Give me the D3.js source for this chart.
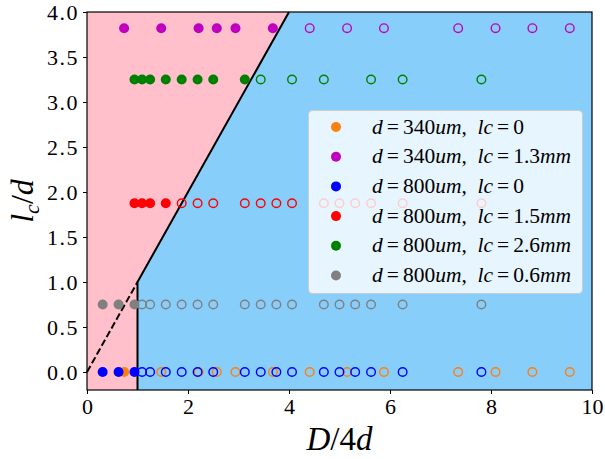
<!DOCTYPE html>
<html>
<head>
<meta charset="utf-8">
<script src="https://cdn.jsdelivr.net/npm/d3@7"></script>
<style>
  body { margin: 0; background: #fff; }
  text { font-family: "Liberation Serif", "DejaVu Serif", serif; }
</style>
</head>
<body>
<div id="chart"></div>
<script>
// series: D/4d positions (filled = inside pink region, open = blue region)
var orangeFilled = [0.735];
var orangeOpen = [1.47, 2.21, 2.57, 2.94, 3.68, 4.41, 5.15, 5.88, 7.35, 8.09, 8.82, 9.56];
var magentaFilled = [0.735, 1.47, 2.21, 2.57, 2.94, 3.68];
var magentaOpen = [4.41, 5.15, 5.88, 7.35, 8.09, 8.82, 9.56];
var blueFilled = [0.31, 0.625, 0.94];
var blueOpen = [1.09, 1.25, 1.56, 1.875, 2.19, 2.5, 3.125, 3.44, 3.75, 4.06, 4.69, 5.0, 5.31, 5.625, 6.25, 7.81];
var redFilled = [0.94, 1.09, 1.25, 1.56];
var redOpen = [1.875, 2.19, 2.5, 3.125, 3.44, 3.75, 4.06, 4.69, 5.0, 5.31, 5.625, 6.25, 7.81];
var greenFilled = [0.94, 1.09, 1.25, 1.56, 1.875, 2.19, 2.5, 3.125];
var greenOpen = [3.44, 4.06, 4.69, 5.625, 6.25, 7.81];
var grayFilled = [0.31, 0.625, 0.94];
var grayOpen = [1.09, 1.25, 1.56, 1.875, 2.19, 2.5, 3.125, 3.44, 3.75, 4.06, 4.69, 5.0, 5.31, 5.625, 6.25, 7.81];

// l_c/d of each series
var rowY = [0, 3.82, 0, 1.875, 3.25, 0.75];
var colors = ["#ff7f0e", "#bf00bf", "#0000ff", "#ff0000", "#008000", "#808080"];
var labels = ["d=340um,  lc=0", "d=340um,  lc=1.3mm", "d=800um,  lc=0",
              "d=800um,  lc=1.5mm", "d=800um,  lc=2.6mm", "d=800um,  lc=0.6mm"];
var filledSets = [orangeFilled, magentaFilled, blueFilled, redFilled, greenFilled, grayFilled];
var openSets = [orangeOpen, magentaOpen, blueOpen, redOpen, greenOpen, grayOpen];

var xTicks = [0, 2, 4, 6, 8, 10];
var yTicks = [0, 0.5, 1, 1.5, 2, 2.5, 3, 3.5, 4];

// boundary between regions
var boundary = [[1, -0.2], [1, 1], [4, 4]];
var dashed = [[0, 0], [1, 1]];

var w = 605, h = 459;
var margin = {top: 12, right: 13, bottom: 69, left: 87};

var svg = d3.select("#chart").append("svg")
    .attr("width", w).attr("height", h);

var x = d3.scaleLinear().domain([0, 10]).range([margin.left, w - margin.right]);
var y = d3.scaleLinear().domain([-0.2, 4]).range([h - margin.bottom, margin.top]);

var line = d3.line().x(function(d) { return x(d[0]); }).y(function(d) { return y(d[1]); });

// background regions
var pinkPoly = [[0, -0.2]].concat(boundary).concat([[0, 4]]);
var bluePoly = boundary.slice().reverse().concat([[1, -0.2], [10, -0.2], [10, 4]]);
svg.append("path").attr("d", line(pinkPoly) + "Z").attr("fill", "#ffc0cb");
svg.append("path").attr("d", line(bluePoly) + "Z").attr("fill", "#87cefa");

svg.append("path").attr("d", line(boundary))
   .attr("fill", "none").attr("stroke", "black").attr("stroke-width", 2);
svg.append("path").attr("d", line(dashed))
   .attr("fill", "none").attr("stroke", "black").attr("stroke-width", 2)
   .attr("stroke-dasharray", "7,3");

// points
colors.forEach(function(c, i) {
  var g = svg.append("g");
  g.selectAll("circle.open")
   .data(openSets[i]).enter().append("circle")
   .attr("cx", function(d) { return x(d); })
   .attr("cy", y(rowY[i]))
   .attr("r", 4.3)
   .attr("fill", "none")
   .attr("stroke", c)
   .attr("stroke-width", 1.4);
  g.selectAll("circle.fill")
   .data(filledSets[i]).enter().append("circle")
   .attr("cx", function(d) { return x(d); })
   .attr("cy", y(rowY[i]))
   .attr("r", 5)
   .attr("fill", c);
});

// axes
var xAxis = d3.axisBottom(x).tickValues(xTicks).tickSize(4).tickPadding(4)
    .tickFormat(d3.format("d"));
var yAxis = d3.axisLeft(y).tickValues(yTicks).tickSize(4).tickPadding(4)
    .tickFormat(d3.format(".1f"));

var gx = svg.append("g").attr("transform", "translate(0," + (h - margin.bottom) + ")").call(xAxis);
var gy = svg.append("g").attr("transform", "translate(" + margin.left + ",0)").call(yAxis);
[gx, gy].forEach(function(g) {
  g.select(".domain").remove();
  g.selectAll("line").attr("stroke", "black").attr("stroke-width", 1);
  g.selectAll("text").attr("font-size", 22).attr("fill", "black")
   .style("font-family", "'Liberation Serif', serif");
});
gy.selectAll("text").attr("letter-spacing", 1.5);

// frame
svg.append("rect")
   .attr("x", margin.left).attr("y", margin.top)
   .attr("width", w - margin.left - margin.right)
   .attr("height", h - margin.top - margin.bottom)
   .attr("fill", "none").attr("stroke", "black").attr("stroke-width", 1.2);

// axis labels
var xl = svg.append("text")
   .attr("x", (margin.left + w - margin.right) / 2).attr("y", 450)
   .attr("text-anchor", "middle").attr("font-size", 33);
xl.append("tspan").attr("font-style", "italic").text("D");
xl.append("tspan").text("/4");
xl.append("tspan").attr("font-style", "italic").text("d");

var yl = svg.append("text")
   .attr("transform", "translate(33," + ((margin.top + h - margin.bottom) / 2) + ") rotate(-90)")
   .attr("text-anchor", "middle").attr("font-size", 32);
yl.append("tspan").attr("font-style", "italic").text("l");
yl.append("tspan").attr("font-style", "italic").attr("font-size", 22).attr("dy", 6).text("c");
yl.append("tspan").attr("dy", -6).text("/");
yl.append("tspan").attr("font-style", "italic").text("d");

// legend
var leg = svg.append("g");
leg.append("rect")
   .attr("x", 308.5).attr("y", 110.5).attr("width", 274).attr("height", 183)
   .attr("rx", 4)
   .attr("fill", "white").attr("fill-opacity", 0.8)
   .attr("stroke", "#cccccc").attr("stroke-width", 1);

labels.forEach(function(lab, i) {
  var ly = 127 + i * 29.7;
  leg.append("circle").attr("cx", 336).attr("cy", ly).attr("r", 5).attr("fill", colors[i]);
  var t = leg.append("text").attr("x", 372).attr("y", ly + 6.5).attr("font-size", 21.5)
     .attr("xml:space", "preserve");
  // letters italic, digits and symbols upright (math style), space around "="
  var prev = "";
  lab.match(/[a-z]+|=|[^a-z=]+/g).forEach(function(part) {
    var isLetter = /[a-z]/.test(part);
    t.append("tspan")
     .attr("font-style", isLetter ? "italic" : "normal")
     .attr("dx", (part === "=" || prev === "=") ? 4 : 0)
     .text(part);
    prev = part;
  });
});
</script>
</body>
</html>
